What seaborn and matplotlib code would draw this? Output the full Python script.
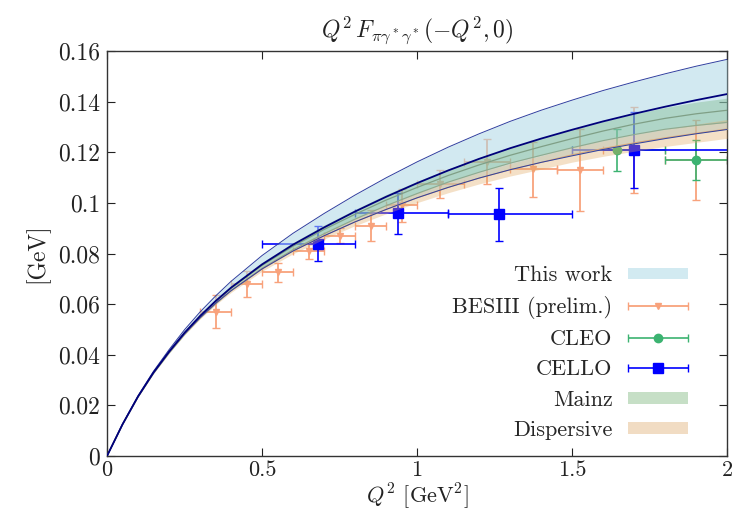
import numpy as np
import matplotlib
matplotlib.use('Agg')
import matplotlib.pyplot as plt
import seaborn as sns
from matplotlib.patches import Patch
from matplotlib.container import ErrorbarContainer
from matplotlib.legend_handler import HandlerErrorbar

# curves, Q^2 grid in GeV^2
q2 = [0.0, 0.05, 0.1, 0.15, 0.2, 0.25, 0.3, 0.35, 0.4, 0.5, 0.6, 0.7, 0.8, 0.9, 1.0,
      1.1, 1.2, 1.3, 1.4, 1.5, 1.6, 1.7, 1.8, 1.9, 2.0]
work_c = [0, 0.0125, 0.0235, 0.0330, 0.0412, 0.0487, 0.0553, 0.0612, 0.0665, 0.0757, 0.0835,
          0.0903, 0.0966, 0.1024, 0.1078, 0.1128, 0.1174, 0.1216, 0.1254, 0.1289, 0.1322,
          0.1352, 0.1380, 0.1406, 0.1430]
work_up = [0, 0.0001, 0.0003, 0.0005, 0.0008, 0.0012, 0.0016, 0.0020, 0.0025, 0.0035, 0.0045,
           0.0055, 0.0065, 0.0075, 0.0084, 0.0092, 0.0099, 0.0106, 0.0112, 0.0117, 0.0122,
           0.0126, 0.0130, 0.0134, 0.0137]
work_dn = [0, 0, 0.0001, 0.0002, 0.0003, 0.0005, 0.0007, 0.0009, 0.0012, 0.0018, 0.0025,
           0.0033, 0.0041, 0.0050, 0.0058, 0.0067, 0.0076, 0.0085, 0.0094, 0.0103, 0.0111,
           0.0119, 0.0126, 0.0133, 0.0140]
mainz_c = [0, 0.0125, 0.0235, 0.0330, 0.0411, 0.0486, 0.0552, 0.0610, 0.0663, 0.0753, 0.0829,
           0.0895, 0.0955, 0.1011, 0.1061, 0.1108, 0.1150, 0.1188, 0.1222, 0.1254, 0.1284,
           0.1311, 0.1334, 0.1352, 0.1366]
mainz_err = [0, 0.0001, 0.0002, 0.0004, 0.0005, 0.0006, 0.0007, 0.0009, 0.0010, 0.0012, 0.0014,
             0.0017, 0.0019, 0.0022, 0.0024, 0.0026, 0.0029, 0.0031, 0.0034, 0.0036, 0.0038,
             0.0041, 0.0043, 0.0046, 0.0048]
disp_c = [0, 0.0125, 0.0234, 0.0328, 0.0409, 0.0482, 0.0546, 0.0603, 0.0653, 0.0739, 0.0810,
          0.0870, 0.0925, 0.0974, 0.1020, 0.1061, 0.1098, 0.1131, 0.1160, 0.1190, 0.1215,
          0.1237, 0.1257, 0.1275, 0.1292]
disp_err = [0, 0.0001, 0.0001, 0.0002, 0.0003, 0.0004, 0.0005, 0.0006, 0.0007, 0.0009, 0.0011,
            0.0013, 0.0015, 0.0017, 0.0019, 0.0021, 0.0023, 0.0025, 0.0027, 0.0029, 0.0031,
            0.0033, 0.0034, 0.0036, 0.0037]

# experimental points
bes_x = [0.35, 0.45, 0.55, 0.65, 0.75, 0.85, 0.95, 1.075, 1.225, 1.375, 1.525, 1.70, 1.90]
bes_xerr = [0.05, 0.05, 0.05, 0.05, 0.05, 0.05, 0.05, 0.075, 0.075, 0.075, 0.075, 0.10, 0.10]
bes_y = [0.057, 0.068, 0.0725, 0.081, 0.087, 0.091, 0.099, 0.1075, 0.1163, 0.1133, 0.113, 0.1209, 0.1169]
bes_yerr = [0.0065, 0.005, 0.0037, 0.003, 0.003, 0.006, 0.0065, 0.0056, 0.0088, 0.0108, 0.0163, 0.0171, 0.0158]

cleo_x = [1.644, 1.90]
cleo_lo = [1.50, 1.80]
cleo_hi = [1.80, 2.00]
cleo_y = [0.1209, 0.1170]
cleo_yerr = [0.0083, 0.0078]

cello_x = [0.68, 0.94, 1.263, 1.70]
cello_lo = [0.50, 0.80, 1.10, 1.50]
cello_hi = [0.80, 1.10, 1.50, 2.20]
cello_y = [0.0838, 0.0959, 0.0955, 0.1209]
cello_yerr = [0.0069, 0.0080, 0.0105, 0.0151]

sns.set_theme(style='ticks')
plt.rcParams['font.family'] = ['cmr10', 'DejaVu Serif']
plt.rcParams['mathtext.fontset'] = 'cm'
plt.rcParams['axes.formatter.use_mathtext'] = True

fig = plt.figure(figsize=(7.33, 5.18), dpi=100)
ax = fig.add_axes([0.146, 0.1197, 0.846, 0.7818])

x = np.array(q2)
wc = np.array(work_c)
mc = np.array(mainz_c)
dc = np.array(disp_c)

bes_col = '#f8a27c'
cleo_col = '#3cb371'
cello_col = '#0000ff'

ax.errorbar(bes_x, bes_y, xerr=bes_xerr, yerr=bes_yerr, fmt='v', color=bes_col,
            ms=5, lw=1.3, capsize=3, zorder=2)
ax.errorbar(cleo_x, cleo_y,
            xerr=[np.array(cleo_x) - np.array(cleo_lo), np.array(cleo_hi) - np.array(cleo_x)],
            yerr=cleo_yerr, fmt='o', color=cleo_col, ms=6, lw=1.2, capsize=3, zorder=2)
ax.errorbar(cello_x, cello_y,
            xerr=[np.array(cello_x) - np.array(cello_lo), np.array(cello_hi) - np.array(cello_x)],
            yerr=cello_yerr, fmt='s', color=cello_col, ms=7, lw=1.2, capsize=3, zorder=2)

# bands
ax.fill_between(x, wc - np.array(work_dn), wc + np.array(work_up), color='#add8e6',
                alpha=0.55, lw=0, zorder=3)
ax.fill_between(x, mc - np.array(mainz_err), mc + np.array(mainz_err), color='#4a9a4a',
                alpha=0.25, lw=0, zorder=3)
ax.fill_between(x, dc - np.array(disp_err), dc + np.array(disp_err), color='#e0a860',
                alpha=0.35, lw=0, zorder=3)

sns.lineplot(x=x, y=mc, ax=ax, color='#7f9f86', lw=0.9, zorder=4)
sns.lineplot(x=x, y=mc - np.array(mainz_err), ax=ax, color='#8faa90', lw=0.8, zorder=4)
sns.lineplot(x=x, y=dc, ax=ax, color='#d9a878', lw=0.8, zorder=4)
sns.lineplot(x=x, y=wc + np.array(work_up), ax=ax, color='#2f3f9f', lw=0.7, zorder=5)
sns.lineplot(x=x, y=wc - np.array(work_dn), ax=ax, color='#2f3f9f', lw=0.7, zorder=5)
sns.lineplot(x=x, y=wc, ax=ax, color='#00007a', lw=1.3, zorder=5)

ax.set_xlim(0, 2)
ax.set_ylim(0, 0.16)
ax.set_xticks([0, 0.5, 1, 1.5, 2])
ax.set_xticklabels(['0', '0.5', '1', '1.5', '2'])
yt = [0, 0.02, 0.04, 0.06, 0.08, 0.1, 0.12, 0.14, 0.16]
ax.set_yticks(yt)
ax.set_yticklabels(['0', '0.02', '0.04', '0.06', '0.08', '0.1', '0.12', '0.14', '0.16'])
ax.tick_params(direction='in', top=True, right=True, length=6, width=0.8,
               labelsize=17, colors='#222222', pad=5)
ax.tick_params(axis='x', labelsize=16, pad=3)
for s in ax.spines.values():
    s.set_color('#333333')
    s.set_linewidth(1.0)

ax.set_title(r'$Q^2\,F_{\pi\gamma^*\gamma^*}(-Q^2,0)$', fontsize=17, pad=10, color='#222222')
ax.set_xlabel(r'$Q^2$ [GeV$^2$]', fontsize=16, color='#222222')
ax.xaxis.set_label_coords(0.5, -0.062)
ax.set_ylabel('[GeV]', fontsize=17, color='#222222', labelpad=6)

# legend proxies
nan = [np.nan]
h_bes = ax.errorbar(nan, nan, xerr=nan, fmt='v', color=bes_col, ms=5, lw=1.3, capsize=3)
h_cleo = ax.errorbar(nan, nan, xerr=nan, fmt='o', color=cleo_col, ms=6, lw=1.2, capsize=3)
h_cello = ax.errorbar(nan, nan, xerr=nan, fmt='s', color=cello_col, ms=7, lw=1.2, capsize=3)
handles = [Patch(facecolor='#d2eaf1', edgecolor='none'), h_bes, h_cleo, h_cello,
           Patch(facecolor='#c6dfc6', edgecolor='none'),
           Patch(facecolor='#f1dcc3', edgecolor='none')]
labels = ['This work', 'BESIII (prelim.)', 'CLEO', 'CELLO', 'Mainz', 'Dispersive']
ax.legend(handles, labels, loc='lower right', bbox_to_anchor=(0.937, 0.04), frameon=False,
          markerfirst=False, fontsize=16, handlelength=2.7, handleheight=0.45,
          handletextpad=0.7, labelspacing=0.48, borderpad=0, borderaxespad=0,
          handler_map={ErrorbarContainer: HandlerErrorbar(xerr_size=1.35)})

fig.savefig('out.png', dpi=100)
